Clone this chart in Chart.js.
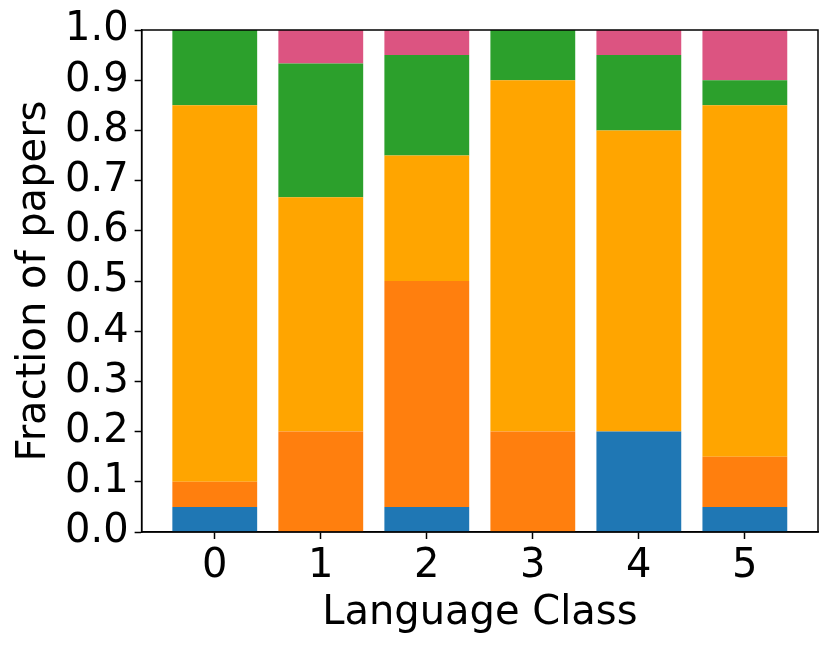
<!DOCTYPE html>
<html>
<head>
<meta charset="utf-8">
<script src="https://cdn.jsdelivr.net/npm/chart.js@4"></script>
<style>
html,body{margin:0;padding:0;background:#fff;}
canvas{display:block;}
</style>
</head>
<body>
<canvas id="c" width="830" height="648"></canvas>
<script>
const categories = [0, 1, 2, 3, 4, 5];
const seriesA = [0.05, 0.0, 0.05, 0.0, 0.20, 0.05];   // blue
const seriesB = [0.05, 0.20, 0.45, 0.20, 0.0, 0.10];  // orange
const seriesC = [0.75, 0.4667, 0.25, 0.70, 0.60, 0.70]; // amber
const seriesD = [0.15, 0.2667, 0.20, 0.10, 0.15, 0.05]; // green
const seriesE = [0.0, 0.0667, 0.05, 0.0, 0.05, 0.10];   // pink
const yTicks = [0, 0.1, 0.2, 0.3, 0.4, 0.5, 0.6, 0.7, 0.8, 0.9, 1.0];

const colors = ['#1f77b4', '#ff7f0e', '#ffa500', '#2ca02c', '#dc5481'];
const allSeries = [seriesA, seriesB, seriesC, seriesD, seriesE];

const FONT = "'DejaVu Sans', sans-serif";

const datasets = allSeries.map((s, k) => ({
  data: s.map((v, i) => ({x: categories[i], y: v})),
  backgroundColor: colors[k],
  borderWidth: 0,
  barPercentage: 0.8,
  categoryPercentage: 1.0,
  stack: 's'
}));

const boxPlugin = {
  id: 'box',
  afterDraw(chart) {
    const a = chart.chartArea, ctx = chart.ctx;
    ctx.save();
    ctx.strokeStyle = '#000';
    ctx.lineWidth = 1.5;
    ctx.strokeRect(a.left, a.top, a.right - a.left, a.bottom - a.top);
    ctx.restore();
  }
};

new Chart(document.getElementById('c'), {
  type: 'bar',
  data: {datasets},
  options: {
    responsive: false,
    animation: false,
    devicePixelRatio: 1,
    layout: {padding: {top: 29, right: 12, left: 11, bottom: 10}},
    plugins: {legend: {display: false}, tooltip: {enabled: false}},
    scales: {
      x: {
        type: 'linear',
        stacked: true,
        min: -0.69, max: 5.69,
        offset: false,
        afterBuildTicks(scale) { scale.ticks = categories.map(v => ({value: v})); },
        ticks: {color: '#000', font: {family: FONT, size: 40}, padding: 4,
                callback: v => String(v), maxRotation: 0, autoSkip: false},
        grid: {display: true, offset: false, drawOnChartArea: false, drawTicks: true, tickLength: 7, color: '#000', tickWidth: 1.5},
        border: {display: true, color: '#000', width: 1.5},
        title: {display: true, text: 'Language Class', color: '#000', font: {family: FONT, size: 40}, padding: {top: -5, bottom: 0}}
      },
      y: {
        stacked: true,
        min: 0, max: 1,
        afterBuildTicks(scale) { scale.ticks = yTicks.map(v => ({value: v})); },
        ticks: {color: '#000', font: {family: FONT, size: 40}, padding: 6, autoSkip: false,
                callback: v => Number(v).toFixed(1)},
        grid: {display: true, offset: false, drawOnChartArea: false, drawTicks: true, tickLength: 7, color: '#000', tickWidth: 1.5},
        border: {display: true, color: '#000', width: 1.5},
        title: {display: true, text: 'Fraction of papers', color: '#000', font: {family: FONT, size: 40}, padding: {top: 0, bottom: 0}}
      }
    }
  },
  plugins: [boxPlugin]
});
</script>
</body>
</html>
